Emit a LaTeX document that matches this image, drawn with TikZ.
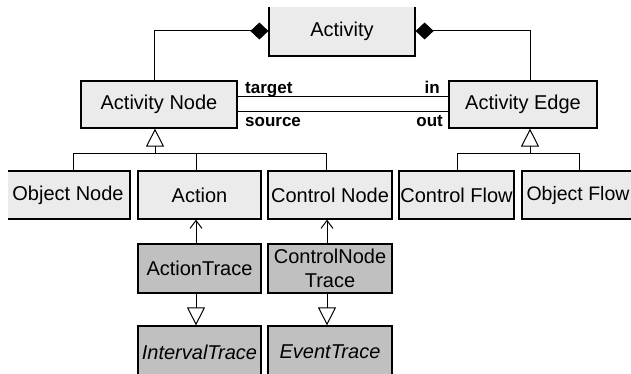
\documentclass[tikz,border=0pt]{standalone}
\usepackage{fontspec}
\setmainfont{Liberation Sans}
\usetikzlibrary{arrows.meta}
\definecolor{classfill}{HTML}{EBEBEB}
\definecolor{tracefill}{HTML}{C0C0C0}
\begin{document}
\begin{tikzpicture}[x=1pt,y=-1pt,
  cls/.style={draw=black, line width=1.2pt, fill=classfill, inner sep=0pt,
              font=\fontsize{20}{24}\selectfont, align=center},
  trc/.style={cls, fill=tracefill},
  conn/.style={draw=black, line width=1pt},
  gen/.style={conn, -{Triangle[open, length=18pt, width=18pt, line width=1pt]}},
  comp/.style={conn, -{Diamond[length=18pt, width=17pt]}},
  dep/.style={conn, -{Straight Barb[length=8pt, width=12pt, line width=1pt]}},
  role/.style={font=\bfseries\fontsize{17}{20}\selectfont, inner sep=0pt}]
\useasboundingbox (0,0) rectangle (631,374);
\fill[white] (0,0) rectangle (631,374);
\begin{scope}
\clip (8,8) rectangle (631,374);

% classes
\node[cls, minimum width=146pt, minimum height=50pt] (act) at (342,31) {Activity};
\node[cls, minimum width=156pt, minimum height=47pt] (anode) at (159,104.5) {Activity Node};
\node[cls, minimum width=148pt, minimum height=47pt] (aedge) at (523,104.5) {Activity Edge};

\node[cls, minimum width=124pt, minimum height=48pt] (onode)  at (68,195)    {Object Node};
\node[cls, minimum width=123pt, minimum height=48pt] (action) at (199.5,195) {Action};
\node[cls, minimum width=124pt, minimum height=48pt] (cnode)  at (330,195)   {Control Node};
\node[cls, minimum width=115pt, minimum height=48pt] (cflow)  at (456.5,195) {Control Flow};
\node[cls, minimum width=112pt, minimum height=48pt,
      font=\fontsize{19.5}{24}\selectfont] (oflow) at (578,195) {Object Flow};

% trace classes
\node[trc, minimum width=123pt, minimum height=49pt] (atrace) at (199.5,268.5) {ActionTrace};
\node[trc, minimum width=124pt, minimum height=49pt] (ctrace) at (330,268.5) {ControlNode\\Trace};
\node[trc, minimum width=123pt, minimum height=52pt] (itrace) at (199.5,352) {\itshape IntervalTrace};
\node[trc, minimum width=124pt, minimum height=52pt] (etrace) at (330,352) {\itshape EventTrace};

% composition to Activity
\coordinate (cl) at (154,0);
\coordinate (cr) at (530,0);
\draw[comp] (anode.north -| cl) |- (act.west);
\draw[comp] (aedge.north -| cr) |- (act.east);

% associations between nodes and edges
\coordinate (tY) at (0,97);
\coordinate (sY) at (0,112);
\draw[conn] (anode.east |- tY) -- (aedge.west |- tY);
\draw[conn] (anode.east |- sY) -- (aedge.west |- sY);
\node[role, anchor=base west] (ltarget) at (245,94)  {target};
\node[role, anchor=base east] (lin)     at (440,94)  {in};
\node[role, anchor=base west] (lsource) at (245,127) {source};
\node[role, anchor=base east] (lout)    at (443,127) {out};

% generalisation of Activity Node
\coordinate (gA)  at (155,154);
\coordinate (jA1) at (73,154);
\coordinate (jA2) at (196,154);
\coordinate (jA3) at (326,154);
\draw[gen] (gA) -- (anode.south -| gA);
\draw[conn] (onode.north -| jA1) -- (jA1) -- (jA3) -- (cnode.north -| jA3);
\draw[conn] (action.north -| jA2) -- (jA2);

% generalisation of Activity Edge
\coordinate (gB)  at (530,154);
\coordinate (jB1) at (457,154);
\coordinate (jB2) at (579,154);
\draw[gen] (gB) -- (aedge.south -| gB);
\draw[conn] (cflow.north -| jB1) -- (jB1) -- (jB2) -- (oflow.north -| jB2);

% traces
\coordinate (tA) at (196,0);
\coordinate (tC) at (327,0);
\draw[dep] (atrace.north -| tA) -- (action.south -| tA);
\draw[dep] (ctrace.north -| tC) -- (cnode.south -| tC);
\draw[gen] (atrace.south -| tA) -- (itrace.north -| tA);
\draw[gen] (ctrace.south -| tC) -- (etrace.north -| tC);
\end{scope}
\end{tikzpicture}
\end{document}
